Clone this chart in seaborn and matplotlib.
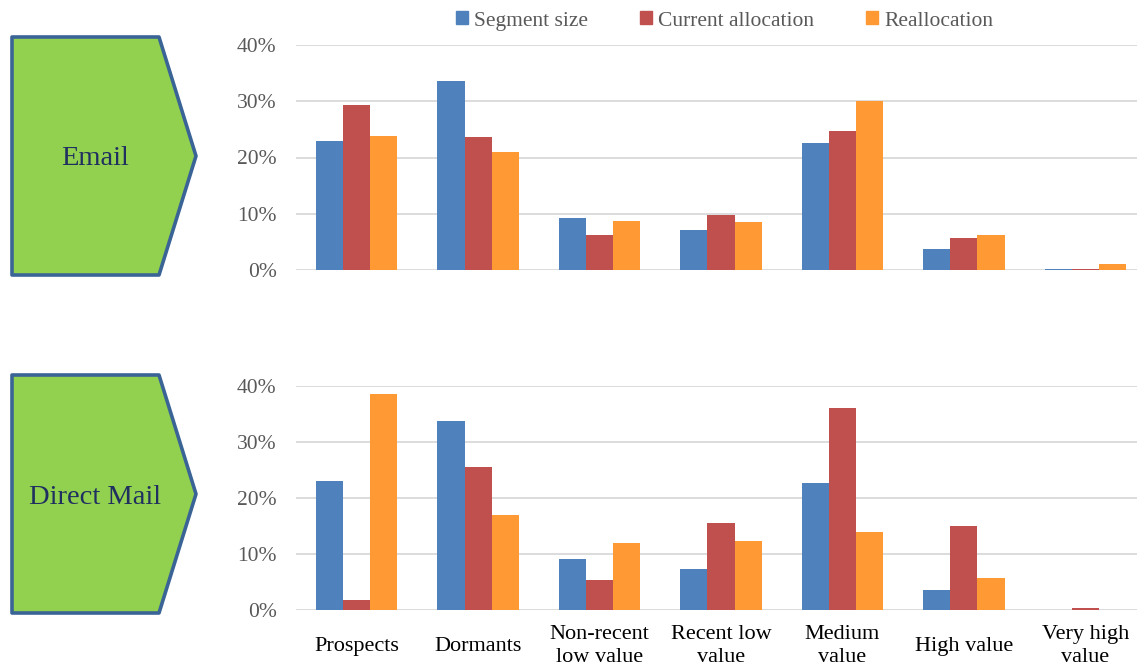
import numpy as np
import pandas as pd
import matplotlib
matplotlib.use("Agg")
import matplotlib.pyplot as plt
from matplotlib.patches import Polygon
from matplotlib.ticker import FuncFormatter
import seaborn as sns

categories = ["Prospects", "Dormants", "Non-recent\nlow value", "Recent low\nvalue",
              "Medium\nvalue", "High value", "Very high\nvalue"]
series = ["Segment size", "Current allocation", "Reallocation"]
colors = ["#4F81BD", "#C0504D", "#FF9933"]

email_segment = [23.0, 33.6, 9.2, 7.2, 22.5, 3.7, 0.2]
email_current = [29.3, 23.7, 6.2, 9.7, 24.7, 5.7, 0.2]
email_realloc = [23.8, 21.0, 8.7, 8.5, 30.1, 6.3, 1.1]

mail_segment = [23.1, 33.8, 9.1, 7.3, 22.7, 3.6, 0.0]
mail_current = [1.7, 25.6, 5.4, 15.6, 36.0, 15.0, 0.3]
mail_realloc = [38.6, 17.0, 11.9, 12.3, 13.9, 5.8, 0.0]

panel_names = ["Email", "Direct Mail"]


def long_df(seg, cur, rea):
    rows = []
    for name, vals in zip(series, [seg, cur, rea]):
        for c, v in zip(categories, vals):
            rows.append({"category": c, "series": name, "value": v / 100.0})
    return pd.DataFrame(rows)


sns.set_theme(style="white")
plt.rcParams["font.family"] = ["Liberation Serif", "DejaVu Serif"]

W, H = 1137, 670
fig = plt.figure(figsize=(W / 100, H / 100), dpi=100)

def fx(x):
    return x / W

def fy(y):
    return 1 - y / H

# axes geometry (pixel): left 296, width 850 ; top panel 45..270, bottom 386..610
ax_left, ax_w = 296, 850
panels = [(45, 270), (386, 610)]
data = [long_df(email_segment, email_current, email_realloc),
        long_df(mail_segment, mail_current, mail_realloc)]

axes = []
for (top, bot), df in zip(panels, data):
    ax = fig.add_axes([fx(ax_left), fy(bot), ax_w / W, (bot - top) / H])
    sns.barplot(data=df, x="category", y="value", hue="series", order=categories,
                hue_order=series, palette=colors, width=0.67, gap=0, ax=ax,
                legend=False, saturation=1, edgecolor="none", linewidth=0)
    ax.set_ylim(0, 0.4)
    ax.set_xlim(-0.5, len(categories) - 0.5)
    ax.set_yticks([0, 0.1, 0.2, 0.3, 0.4])
    ax.yaxis.set_major_formatter(FuncFormatter(lambda v, p: f"{v*100:.0f}%"))
    ax.yaxis.grid(True, color="#D9D9D9", linewidth=1.3)
    ax.set_axisbelow(True)
    for s in ax.spines.values():
        s.set_visible(False)
    ax.tick_params(axis="y", length=0, pad=14, labelsize=15.5, labelcolor="#595959")
    ax.tick_params(axis="x", length=0, pad=26, labelsize=16, labelcolor="black")
    ax.set_xlabel("")
    ax.set_ylabel("")
    axes.append(ax)

axes[0].set_xticklabels([])
axes[1].set_xticklabels(categories, linespacing=1.25)
for t in axes[1].get_xticklabels():
    t.set_va("center")

# legend
handles = [plt.Rectangle((0, 0), 1, 1, color=c) for c in colors]
fig.legend(handles, series, loc="center left", bbox_to_anchor=(fx(456), fy(21)), ncol=3,
           frameon=False, fontsize=15.5, labelcolor="#595959", handlelength=0.55,
           handleheight=0.55, handletextpad=0.3, columnspacing=2.4,
           borderaxespad=0, borderpad=0)

# pentagon labels
shapes = [(37, 156, 275, "Email"), (375, 494, 613, "Direct Mail")]
for top, mid, bot, label in shapes:
    pts = [(fx(12), fy(top)), (fx(159), fy(top)), (fx(196), fy(mid)),
           (fx(159), fy(bot)), (fx(12), fy(bot))]
    poly = Polygon(pts, closed=True, facecolor="#92D050", edgecolor="#3A6496",
                   linewidth=2.6, joinstyle="round", transform=fig.transFigure)
    fig.patches.append(poly)
    fig.text(fx(95), fy(mid + 3), label, ha="center", va="center", fontsize=20.5,
             color="#1F2F5F")

fig.savefig("out.png", dpi=100)
